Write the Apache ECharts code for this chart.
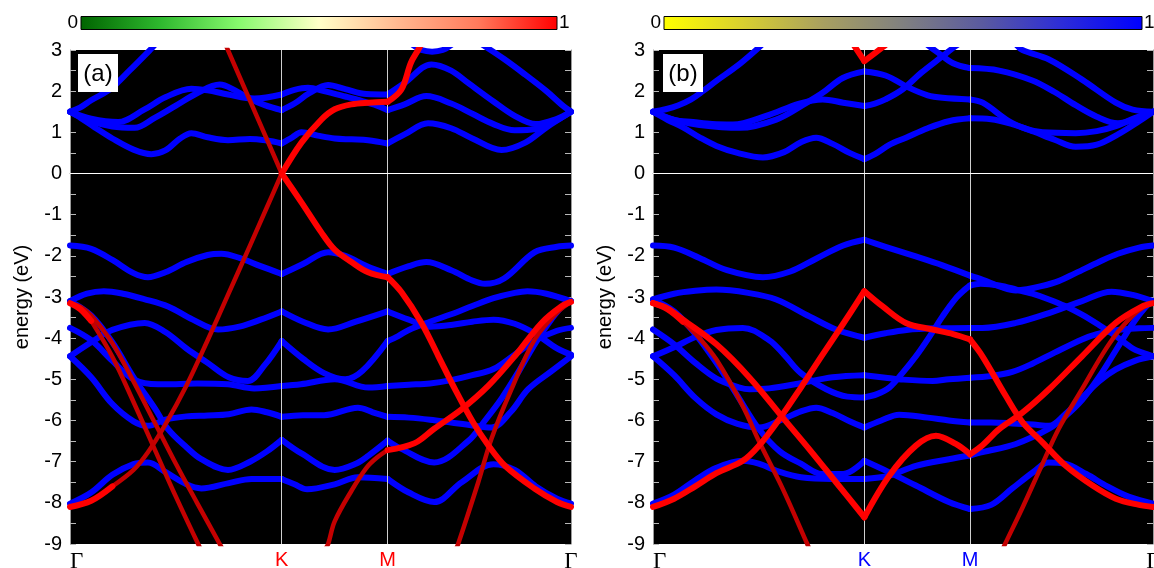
<!DOCTYPE html>
<html><head><meta charset="utf-8">
<script src="https://cdn.jsdelivr.net/npm/echarts@6/dist/echarts.min.js"></script>
<style>html,body{margin:0;padding:0;background:#fff}#c{width:1154px;height:568px}</style>
</head><body><div id="c"></div><script>
// ---- k-path (Gamma-K-M-Gamma), energy range ----
const K_POS = 1, M_POS = 1.5, G_END = 1.5 + Math.sqrt(3) / 2;
const xTickPos = [0, K_POS, M_POS, G_END];
const xTickLabels = ['Γ', 'K', 'M', 'Γ'];
const yMin = -9, yMax = 3, yStep = 1;
const colorbarTicks = ['0', '1'];
const panelTags = ['(a)', '(b)'];

// ---- panel (a) bands: [k, energy] ----
const A_U1 = [[0,1.5],[0.047,1.6],[0.1,1.78],[0.19,2.05],[0.283,2.51],[0.378,3.0],[0.4,3.12]];
const A_U2 = [[0,1.5],[0.1,1.33],[0.227,1.25],[0.35,1.55],[0.45,1.85],[0.573,2.06],[0.65,2.02],[0.746,1.92],[0.87,1.82],[1,1.92],[1.06,2.03],[1.124,2.08],[1.2,2.0],[1.3,1.87],[1.38,1.76],[1.45,1.65],[1.5,1.54],[1.58,1.68],[1.683,1.88],[1.8,1.7],[1.9,1.45],[2.0,1.2],[2.1,1.05],[2.2,1.08],[2.3,1.3],[2.366,1.5]];
const A_U3 = [[0,1.5],[0.1,1.27],[0.2,1.14],[0.305,1.11],[0.4,1.35],[0.5,1.65],[0.6,1.95],[0.707,2.16],[0.78,2.02],[0.84,1.84],[0.92,1.66],[1,1.54],[1.06,1.7],[1.13,1.95],[1.219,2.15],[1.3,2.05],[1.4,1.93],[1.5,1.92],[1.58,2.2],[1.707,2.65],[1.8,2.5],[1.88,2.2],[2.0,1.75],[2.1,1.4],[2.2,1.2],[2.3,1.33],[2.366,1.5]];
const A_T1 = [[1.62,3.12],[1.66,3.0],[1.71,2.96],[1.76,3.0],[1.8,3.12]];
const A_R1 = [[1.95,3.12],[2.05,2.78],[2.15,2.4],[2.25,2.0],[2.32,1.68],[2.366,1.5]];
const A_L  = [[0,1.5],[0.05,1.35],[0.117,1.12],[0.2,0.85],[0.3,0.58],[0.384,0.47],[0.45,0.56],[0.52,0.85],[0.573,0.98],[0.65,0.88],[0.746,0.81],[0.85,0.84],[0.93,0.8],[1,0.73],[1.05,0.88],[1.093,1.0],[1.17,0.92],[1.25,0.85],[1.33,0.83],[1.408,0.81],[1.5,0.73],[1.58,0.95],[1.691,1.22],[1.8,1.1],[1.9,0.85],[2.038,0.57],[2.15,0.75],[2.25,1.12],[2.366,1.5]];
const A_V1 = [[0,-1.75],[0.1,-1.83],[0.2,-2.1],[0.3,-2.42],[0.368,-2.52],[0.45,-2.4],[0.55,-2.15],[0.65,-1.98],[0.715,-1.95],[0.8,-2.05],[0.9,-2.25],[1,-2.44],[1.1,-2.2],[1.219,-1.91],[1.3,-2.0],[1.4,-2.25],[1.5,-2.44],[1.6,-2.25],[1.683,-2.15],[1.8,-2.35],[1.9,-2.6],[1.96,-2.68],[2.05,-2.55],[2.195,-1.91],[2.3,-1.78],[2.366,-1.75]];
const A_B1 = [[0,-3.1],[0.08,-2.92],[0.16,-2.86],[0.25,-2.92],[0.35,-3.05],[0.463,-3.23],[0.58,-3.55],[0.699,-3.79],[0.8,-3.72],[0.9,-3.55],[1,-3.35],[1.1,-3.6],[1.219,-3.79],[1.35,-3.6],[1.5,-3.35],[1.6,-3.55],[1.7,-3.72],[1.8,-3.68],[1.9,-3.6],[2.0,-3.55],[2.1,-3.65],[2.2,-3.9],[2.3,-4.25],[2.366,-4.4]];
const A_B3 = [[0,-4.44],[0.1,-4.1],[0.2,-3.8],[0.353,-3.63],[0.45,-3.85],[0.55,-4.25],[0.65,-4.6],[0.75,-4.95],[0.84,-5.04],[0.92,-4.65],[1,-4.07],[1.1,-4.5],[1.2,-4.85],[1.3,-5.0],[1.38,-4.8],[1.5,-4.07],[1.55,-3.95],[1.6,-3.8],[1.7,-3.6],[1.8,-3.42],[1.9,-3.22],[2.0,-3.03],[2.1,-2.9],[2.16,-2.86],[2.25,-2.92],[2.366,-3.1]];
const A_B4 = [[0,-3.75],[0.1,-4.05],[0.2,-4.55],[0.3,-5.0],[0.416,-5.12],[0.5,-5.12],[0.6,-5.1],[0.746,-5.12],[0.87,-5.22],[1,-5.16],[1.09,-5.12],[1.25,-5.0],[1.41,-5.2],[1.5,-5.16],[1.6,-5.13],[1.7,-5.1],[1.8,-5.02],[1.9,-4.9],[2.0,-4.75],[2.1,-4.4],[2.2,-4.05],[2.3,-3.82],[2.366,-3.75]];
const A_B5 = [[0,-4.44],[0.1,-4.95],[0.2,-5.6],[0.3,-6.02],[0.368,-6.13],[0.45,-5.98],[0.55,-5.9],[0.65,-5.88],[0.75,-5.85],[0.857,-5.73],[0.93,-5.8],[1,-5.91],[1.1,-5.87],[1.2,-5.87],[1.36,-5.69],[1.43,-5.8],[1.5,-5.91],[1.6,-5.93],[1.7,-5.98],[1.8,-6.05],[1.9,-6.12],[1.99,-6.17],[2.08,-5.8],[2.164,-5.24],[2.274,-4.8],[2.366,-4.44]];
const A_B6 = [[0,-3.1],[0.1,-3.45],[0.2,-4.1],[0.3,-4.95],[0.4,-5.7],[0.463,-6.21],[0.55,-6.65],[0.62,-6.94],[0.746,-7.2],[0.85,-7.0],[0.93,-6.75],[1,-6.47],[1.093,-6.8],[1.25,-7.2],[1.35,-7.05],[1.408,-6.86],[1.5,-6.49],[1.565,-6.69],[1.72,-7.02],[1.88,-6.5],[1.96,-6.0],[2.04,-5.45],[2.12,-4.8],[2.2,-4.1],[2.28,-3.5],[2.33,-3.2],[2.366,-3.1]];
const A_B7 = [[0,-8.02],[0.1,-7.75],[0.2,-7.32],[0.3,-7.06],[0.368,-7.02],[0.45,-7.25],[0.55,-7.55],[0.62,-7.65],[0.75,-7.52],[0.857,-7.42],[1,-7.42],[1.06,-7.55],[1.12,-7.67],[1.25,-7.55],[1.36,-7.38],[1.5,-7.42],[1.6,-7.75],[1.72,-7.98],[1.85,-7.5],[2.0,-7.06],[2.1,-7.2],[2.2,-7.6],[2.3,-7.9],[2.366,-8.02]];
const A_D1 = [[0.733,3.15],[0.8,2.36],[0.9,1.18],[1,0],[1.093,-0.7],[1.187,-1.43],[1.25,-1.85],[1.329,-2.15],[1.408,-2.4],[1.5,-2.52],[1.565,-2.88],[1.66,-3.63],[1.74,-4.44],[1.818,-5.24],[1.904,-6.05],[1.975,-6.6],[2.054,-7.1],[2.195,-7.66],[2.3,-7.98],[2.366,-8.1]];
const A_D2 = [[0,-8.1],[0.1,-7.95],[0.2,-7.6],[0.3,-7.2],[0.368,-6.77],[0.45,-6.1],[0.55,-5.15],[0.65,-4.05],[0.746,-2.95],[0.85,-1.75],[0.93,-0.82],[1,0],[1.093,0.75],[1.187,1.31],[1.25,1.56],[1.329,1.68],[1.408,1.72],[1.5,1.74],[1.565,2.04],[1.61,2.69],[1.644,3.0],[1.66,3.15]];
const A_D3 = [[0,-3.15],[0.05,-3.3],[0.1,-3.58],[0.2,-4.45],[0.3,-5.55],[0.4,-6.7],[0.5,-7.85],[0.605,-9.0],[0.62,-9.15]];
const A_D4 = [[0,-3.15],[0.05,-3.24],[0.1,-3.45],[0.2,-4.12],[0.3,-5.05],[0.4,-6.05],[0.5,-7.05],[0.6,-8.0],[0.707,-9.0],[0.72,-9.12]];
const A_D5 = [[1.205,-9.12],[1.219,-9.0],[1.25,-8.45],[1.33,-7.7],[1.4,-7.15],[1.45,-6.9],[1.5,-6.72],[1.628,-6.55],[1.72,-6.2],[1.849,-5.73],[1.975,-5.16],[2.1,-4.44],[2.227,-3.63],[2.32,-3.23],[2.366,-3.12]];
const A_D6 = [[1.82,-9.15],[1.833,-9.0],[1.928,-7.5],[1.99,-6.45],[2.085,-5.24],[2.195,-4.03],[2.3,-3.38],[2.366,-3.12]];

// ---- panel (b) bands: [k, energy] ----
const B_U1 = [[0,1.5],[0.06,1.56],[0.118,1.65],[0.18,1.8],[0.236,2.0],[0.3,2.25],[0.4,2.62],[0.488,3.0],[0.51,3.1]];
const B_U2 = [[0,1.5],[0.1,1.3],[0.189,1.25],[0.28,1.2],[0.378,1.19],[0.535,1.4],[0.693,1.7],[0.803,1.8],[0.9,1.72],[1,1.64],[1.05,1.7],[1.1,1.8],[1.18,2.04],[1.27,2.45],[1.37,2.85],[1.42,3.05],[1.44,3.12]];
const B_U3 = [[0,1.5],[0.1,1.3],[0.22,1.18],[0.41,1.11],[0.583,1.31],[0.724,1.71],[0.803,1.96],[0.898,2.32],[1,2.48],[1.1,2.38],[1.213,2.08],[1.3,1.9],[1.37,1.84],[1.5,1.8],[1.56,1.72],[1.685,1.27],[1.77,1.08],[1.843,1.0],[2.0,0.98],[2.1,1.03],[2.19,1.15],[2.28,1.35],[2.366,1.5]];
const B_U4 = [[1.3,3.12],[1.35,2.93],[1.42,2.68],[1.5,2.56],[1.638,2.5],[1.795,2.26],[1.9,1.98],[2.0,1.66],[2.1,1.38],[2.2,1.22],[2.3,1.35],[2.366,1.5]];
const B_U5 = [[1.72,3.12],[1.748,3.0],[1.874,2.77],[2.03,2.28],[2.19,1.72],[2.27,1.55],[2.366,1.5]];
const B_L  = [[0,1.5],[0.07,1.3],[0.142,1.12],[0.22,0.88],[0.3,0.67],[0.4,0.5],[0.52,0.39],[0.62,0.52],[0.7,0.76],[0.772,0.87],[0.85,0.72],[0.93,0.5],[1,0.35],[1.05,0.47],[1.12,0.7],[1.197,0.87],[1.3,1.1],[1.4,1.27],[1.5,1.34],[1.6,1.32],[1.7,1.2],[1.8,1.02],[1.9,0.82],[2.0,0.65],[2.1,0.7],[2.2,0.95],[2.3,1.27],[2.366,1.5]];
const B_V1 = [[0,-1.75],[0.1,-1.8],[0.22,-2.05],[0.35,-2.35],[0.52,-2.52],[0.65,-2.38],[0.772,-2.07],[0.9,-1.75],[1,-1.61],[1.1,-1.78],[1.228,-1.99],[1.37,-2.23],[1.5,-2.48],[1.56,-2.58],[1.65,-2.76],[1.717,-2.84],[1.8,-2.78],[1.906,-2.64],[2.0,-2.42],[2.11,-2.15],[2.2,-1.95],[2.3,-1.8],[2.366,-1.75]];
const B_B1 = [[0,-3.06],[0.1,-2.92],[0.2,-2.85],[0.3,-2.82],[0.45,-2.9],[0.583,-3.06],[0.74,-3.47],[0.866,-3.79],[1,-3.99],[1.1,-3.88],[1.2,-3.8],[1.35,-3.76],[1.5,-3.75],[1.559,-3.75],[1.717,-3.63],[1.874,-3.39],[2.03,-3.1],[2.17,-2.87],[2.27,-2.95],[2.366,-3.1]];
const B_B2 = [[0,-3.79],[0.1,-4.15],[0.2,-4.6],[0.3,-4.98],[0.41,-5.2],[0.457,-5.24],[0.55,-5.22],[0.693,-5.1],[0.85,-4.95],[1,-4.9],[1.1,-4.96],[1.165,-5.0],[1.323,-5.04],[1.4,-5.0],[1.5,-4.96],[1.6,-4.92],[1.7,-4.82],[1.795,-4.62],[1.9,-4.35],[2.03,-4.03],[2.1,-3.9],[2.2,-3.8],[2.3,-3.76],[2.366,-3.75]];
const B_B3 = [[0,-4.44],[0.1,-4.22],[0.2,-3.97],[0.3,-3.8],[0.425,-3.75],[0.55,-4.05],[0.62,-4.4],[0.7,-4.85],[0.82,-5.24],[0.92,-5.42],[1,-5.44],[1.06,-5.36],[1.118,-5.2],[1.18,-4.85],[1.244,-4.44],[1.31,-3.95],[1.37,-3.47],[1.43,-3.05],[1.48,-2.8],[1.5,-2.72],[1.55,-2.68],[1.638,-2.72],[1.72,-2.82],[1.795,-2.92],[1.874,-3.06],[1.95,-3.22],[2.03,-3.43],[2.11,-3.68],[2.19,-3.95],[2.27,-4.25],[2.315,-4.35],[2.366,-4.44]];
const B_B4 = [[0,-4.44],[0.1,-4.9],[0.2,-5.45],[0.3,-5.85],[0.4,-6.08],[0.504,-6.17],[0.6,-6.0],[0.7,-5.78],[0.772,-5.69],[0.85,-5.82],[0.93,-6.02],[1,-6.17],[1.08,-6.0],[1.165,-5.86],[1.3,-5.93],[1.4,-6.0],[1.5,-6.05],[1.6,-6.05],[1.7,-6.07],[1.8,-6.1],[1.874,-6.13],[1.95,-5.85],[2.03,-5.45],[2.11,-5.05],[2.19,-4.76],[2.28,-4.55],[2.366,-4.44]];
const B_B5 = [[0,-8.02],[0.1,-7.8],[0.2,-7.45],[0.3,-7.15],[0.425,-6.98],[0.5,-7.05],[0.6,-7.25],[0.7,-7.38],[0.85,-7.42],[1,-7.42],[1.118,-7.34],[1.244,-7.1],[1.4,-6.94],[1.5,-6.85],[1.559,-6.77],[1.717,-6.57],[1.874,-6.2],[1.95,-5.9],[2.03,-5.5],[2.11,-4.95],[2.19,-4.3],[2.27,-3.65],[2.33,-3.25],[2.366,-3.1]];
const B_B6 = [[0,-3.06],[0.1,-3.35],[0.2,-3.9],[0.3,-4.6],[0.4,-5.4],[0.5,-6.2],[0.6,-6.75],[0.7,-7.05],[0.8,-7.3],[0.9,-7.3],[1,-6.98],[1.118,-7.26],[1.244,-7.58],[1.4,-7.98],[1.5,-8.15],[1.6,-8.05],[1.7,-7.65],[1.8,-7.25],[1.87,-7.02],[1.95,-7.05],[2.05,-7.3],[2.15,-7.6],[2.25,-7.85],[2.366,-8.02]];
const B_R1 = [[0,-8.1],[0.1,-7.9],[0.2,-7.6],[0.3,-7.28],[0.425,-6.98],[0.5,-6.62],[0.6,-5.95],[0.7,-5.2],[0.8,-4.42],[0.9,-3.65],[1,-2.86],[1.087,-3.23],[1.197,-3.63],[1.323,-3.79],[1.42,-3.9],[1.5,-4.03],[1.559,-4.44],[1.669,-5.4],[1.75,-6.05],[1.843,-6.53],[1.953,-7.1],[2.08,-7.58],[2.19,-7.9],[2.3,-8.05],[2.366,-8.1]];
const B_R2 = [[0,-3.15],[0.07,-3.28],[0.142,-3.55],[0.3,-4.15],[0.457,-4.96],[0.614,-5.93],[0.74,-6.7],[0.866,-7.5],[1,-8.35],[1.118,-7.34],[1.244,-6.61],[1.339,-6.37],[1.433,-6.57],[1.5,-6.82],[1.559,-6.6],[1.638,-6.21],[1.748,-5.81],[1.874,-5.24],[2.03,-4.44],[2.19,-3.63],[2.315,-3.23],[2.366,-3.15]];
const B_R3 = [[0,-3.15],[0.07,-3.3],[0.142,-3.6],[0.22,-4.0],[0.3,-4.52],[0.425,-5.65],[0.504,-6.53],[0.614,-7.66],[0.73,-9.0],[0.74,-9.12]];
const B_R4 = [[1.655,-9.12],[1.666,-9.0],[1.75,-8.1],[1.83,-7.2],[1.92,-6.2],[2.03,-5.24],[2.126,-4.4],[2.2,-3.85],[2.27,-3.45],[2.32,-3.25],[2.366,-3.15]];
const B_RV = [[0.95,3.12],[1,2.73],[1.09,3.08],[1.1,3.12]];

// ---- styles (kept apart from the values) ----
const STY = {
  blue:   {color: '#0000ff', width: 6,   z: 3},
  dark:   {color: '#c40000', width: 4.5, z: 4},
  bright: {color: '#ff0000', width: 6,   z: 5}
};
const ALL = [[9, 'blue']];
const panels = [
  { bands: [
      [A_U1, ALL],[A_U2, ALL],[A_U3, ALL],[A_T1, ALL],[A_R1, ALL],[A_L, ALL],[A_V1, ALL],
      [A_B1, ALL],[A_B3, ALL],[A_B4, ALL],[A_B5, ALL],[A_B6, ALL],[A_B7, ALL],
      [A_D1, [[1,'dark'],[9,'bright']]],
      [A_D2, [[0.2,'bright'],[1,'dark'],[9,'bright']]],
      [A_D3, [[0.1,'bright'],[9,'dark']]],
      [A_D4, [[9,'dark']]],
      [A_D5, [[1.5,'dark'],[9,'bright']]],
      [A_D6, [[9,'dark']]]
    ], kmColor: '#ff0000',
    grid: {left: 70, top: 50, width: 501, height: 494},
    bar: {x: 81, w: 476}, barStops: ['#006400','#2eb82e','#88fa6e','#ffffc8','#ffb890','#ff7a5c','#ff0000'],
    tag: {x: 78} },
  { bands: [
      [B_U1, ALL],[B_U2, ALL],[B_U3, ALL],[B_U4, ALL],[B_U5, ALL],[B_L, ALL],[B_V1, ALL],
      [B_B1, ALL],[B_B2, ALL],[B_B3, ALL],[B_B4, ALL],[B_B5, ALL],[B_B6, ALL],
      [B_R1, [[9,'bright']]],
      [B_R2, [[9,'bright']]],
      [B_R3, [[0.142,'bright'],[9,'dark']]],
      [B_R4, [[9,'dark']]],
      [B_RV, [[9,'bright']]]
    ], kmColor: '#0000ff',
    grid: {left: 653, top: 50, width: 500, height: 494},
    bar: {x: 664, w: 478}, barStops: ['#ffff00','#d8d030','#a8a060','#808080','#5a5aa0','#2c2cd8','#0000ff'],
    tag: {x: 663} }
];

// split each band at K and M (and style changes), draw with the library
function pieces(pts, spec, pi) {
  const brk = [K_POS, M_POS].concat(spec.map(s => s[0]));
  const out = [];
  let start = 0;
  for (let i = 1; i < pts.length; i++) {
    const k = pts[i][0];
    const isB = brk.some(b => Math.abs(b - k) < 1e-6) || i === pts.length - 1;
    if (isB) {
      const seg = pts.slice(start, i + 1);
      const mid = (seg[0][0] + seg[seg.length - 1][0]) / 2;
      const st = STY[spec.find(s => mid <= s[0] + 1e-9)[1]];
      out.push({
        type: 'line', xAxisIndex: pi, yAxisIndex: pi * 2, data: seg,
        smooth: 0.35, showSymbol: false, symbol: 'none', silent: true,
        lineStyle: {color: st.color, width: st.width, cap: 'round', join: 'round'},
        z: st.z, clip: true, animation: false
      });
      start = i;
    }
  }
  return out;
}

const grids = [], xAxes = [], yAxes = [], series = [], graphic = [];
panels.forEach((p, pi) => {
  grids.push(Object.assign({show: true, backgroundColor: '#000000', borderWidth: 0,
    containLabel: false, outerBoundsMode: 'none'}, p.grid));
  xAxes.push({
    type: 'value', gridIndex: pi, min: 0, max: G_END,
    axisLine: {show: true, lineStyle: {color: '#9a9a9a', width: 1}},
    axisTick: {show: false}, splitLine: {show: false},
    axisLabel: {
      customValues: xTickPos, margin: 6, hideOverlap: false,
      alignMinLabel: 'left',
      formatter: (v) => {
        let idx = 0, best = 1e9;
        xTickPos.forEach((t, j) => { if (Math.abs(t - v) < best) { best = Math.abs(t - v); idx = j; } });
        const s = xTickLabels[idx];
        return s === 'Γ' ? '{g|' + s + '}' : '{k|' + s + '}';
      },
      rich: {
        g: {fontFamily: 'Liberation Serif', fontSize: 23, color: '#000'},
        k: {fontFamily: 'Liberation Sans', fontSize: 20, color: p.kmColor}
      }
    }
  });
  const tick = {show: true, inside: true, length: 6, lineStyle: {color: '#b8b8b8', width: 1}};
  const minor = {show: true, splitNumber: 2, length: 6, lineStyle: {color: '#b8b8b8', width: 1}};
  yAxes.push({
    type: 'value', gridIndex: pi, min: yMin, max: yMax, interval: yStep, position: 'left',
    axisLine: {show: true, lineStyle: {color: '#9a9a9a'}},
    axisTick: tick, minorTick: minor, splitLine: {show: false},
    axisLabel: {fontSize: 20, color: '#000', fontFamily: 'Liberation Sans', margin: 8},
    name: 'energy (eV)', nameLocation: 'middle', nameGap: 38,
    nameTextStyle: {fontSize: 20, color: '#000', fontFamily: 'Liberation Sans'}
  });
  yAxes.push({
    type: 'value', gridIndex: pi, min: yMin, max: yMax, interval: yStep, position: 'right',
    axisLine: {show: true, lineStyle: {color: '#9a9a9a'}},
    axisTick: tick, minorTick: minor, splitLine: {show: false},
    axisLabel: {show: false}
  });
  p.bands.forEach(b => { pieces(b[0], b[1], pi).forEach(s => series.push(s)); });
  // reference lines at K, M and E = 0
  series.push({
    type: 'line', xAxisIndex: pi, yAxisIndex: pi * 2, data: [], z: 8, silent: true,
    markLine: {
      silent: true, symbol: ['none', 'none'], label: {show: false}, animation: false,
      lineStyle: {color: '#cfcfcf', width: 1, type: 'solid'},
      data: [{xAxis: K_POS}, {xAxis: M_POS}, {yAxis: 0, lineStyle: {color: '#ffffff', width: 1, type: 'solid'}}]
    }
  });
  // colour bar
  const stops = p.barStops.map((c, j) => ({offset: j / (p.barStops.length - 1), color: c}));
  graphic.push({type: 'rect', z: 100, shape: {x: p.bar.x, y: 16.5, width: p.bar.w, height: 13},
    style: {fill: new echarts.graphic.LinearGradient(0, 0, 1, 0, stops), stroke: '#000', lineWidth: 1}});
  graphic.push({type: 'text', z: 100, x: p.bar.x - 3, y: 23,
    style: {text: colorbarTicks[0], fontSize: 19, fontFamily: 'Liberation Sans', fill: '#000', align: 'right', verticalAlign: 'middle'}});
  graphic.push({type: 'text', z: 100, x: p.bar.x + p.bar.w + 2, y: 23,
    style: {text: colorbarTicks[1], fontSize: 19, fontFamily: 'Liberation Sans', fill: '#000', align: 'left', verticalAlign: 'middle'}});
  // panel tag
  graphic.push({type: 'rect', z: 100, shape: {x: p.tag.x, y: 54, width: 40, height: 38}, style: {fill: '#ffffff'}});
  graphic.push({type: 'text', z: 101, x: p.tag.x + 20, y: 74,
    style: {text: panelTags[pi], fontSize: 24, fontFamily: 'Liberation Sans', fill: '#000', align: 'center', verticalAlign: 'middle'}});
});

const chart = echarts.init(document.getElementById('c'), null, {renderer: 'canvas'});
chart.setOption({
  animation: false, backgroundColor: '#ffffff',
  grid: grids, xAxis: xAxes, yAxis: yAxes, series: series, graphic: graphic
});
</script></body></html>
